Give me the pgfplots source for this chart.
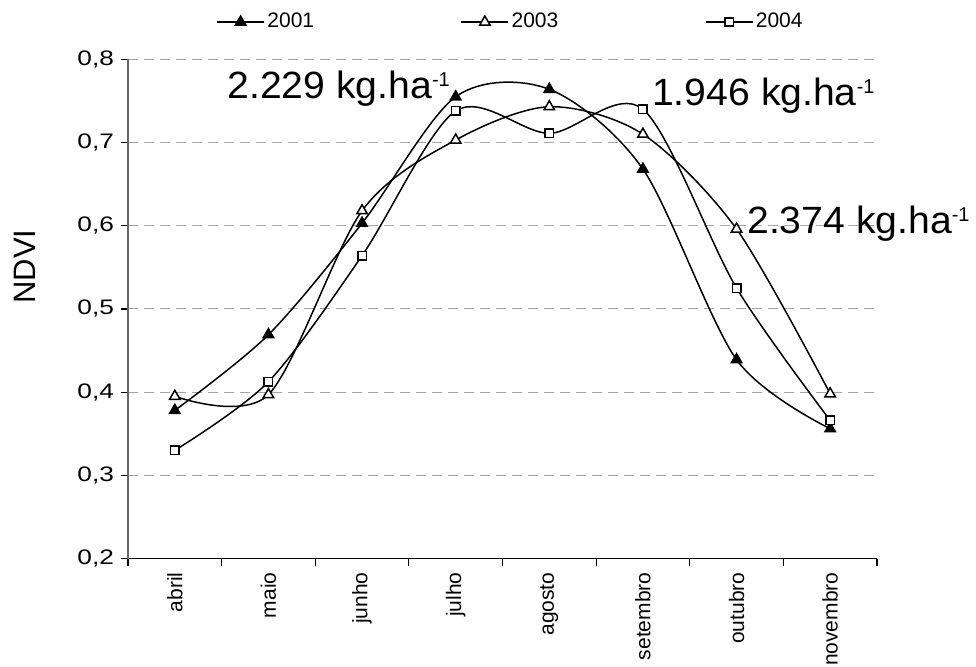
\documentclass[border=0pt]{standalone}
\usepackage{pgfplots}
\pgfplotsset{compat=1.18}
\usepackage{fontspec}
\setmainfont{Liberation Sans}
\newcommand{\ann}[1]{\scalebox{1.03}[1]{#1 kg.ha}\raisebox{6pt}{\fontsize{10}{12}\selectfont -1}}
\begin{document}
\begin{tikzpicture}
\path[use as bounding box] (-64pt,-53.75pt) rectangle (424pt,279.25pt);
\begin{axis}[
  scale only axis,
  width=374.5pt, height=249.6pt,
  at={(0pt,0pt)}, anchor=south west,
  clip=false,
  xmin=-0.5, xmax=7.5,
  ymin=0.2, ymax=0.8,
  axis x line=bottom, axis y line=left,
  axis line style={-, line width=0.6pt},
  y axis line style={black!60},
  ytick={0.2,0.3,...,0.81},
  /pgf/number format/fixed, /pgf/number format/fixed zerofill, /pgf/number format/precision=1,
  /pgf/number format/use comma, /pgf/number format/assume math mode=true,
  yticklabel={\scalebox{1.25}[1]{\pgfmathprintnumber{\tick}}},
  xtick={0,...,7},
  xticklabels={abril,maio,junho,julho,agosto,setembro,outubro,novembro},
  minor xtick={-0.5,0.5,...,7.5},
  tick align=outside,
  major tick length=3.5pt,
  minor tick length=3.5pt,
  x tick style={draw=none},
  minor x tick style={draw=black, line width=0.6pt},
  y tick style={black, line width=0.6pt},
  xticklabel style={rotate=90, anchor=east, font=\fontsize{10.5}{12}\selectfont},
  yticklabel style={font=\fontsize{10.5}{12}\selectfont},
  ymajorgrids,
  major grid style={black!35, dash pattern=on 5pt off 3pt, line width=0.5pt},
  ylabel={NDVI},
  ylabel style={at={(axis description cs:-0.1375,0.5845)}, anchor=center, font=\fontsize{15.5}{18}\selectfont},
  legend columns=3,
  legend style={at={(axis description cs:0.1175,1.0747)}, anchor=west, draw=none, fill=none,
    font=\fontsize{10.5}{12}\selectfont, inner sep=0pt,
    nodes={inner sep=1.25pt},
    /tikz/every even column/.append style={column sep=72pt}},
  legend image code/.code={
    \draw[#1] (0pt,0pt) -- (23.5pt,0pt);
    \draw[#1, mark repeat=1] plot coordinates {(11.75pt,0pt)};
  },
  every axis plot/.append style={line width=0.75pt, black, smooth, tension=0.5},
]
\addplot[mark=triangle*, mark size=3pt, mark options={fill=black, solid}] coordinates {
 (0,0.378) (1,0.469) (2,0.603) (3,0.755) (4,0.764) (5,0.668) (6,0.439) (7,0.356)};
\addlegendentry{2001}
\addplot[mark=triangle*, mark size=3pt, mark options={fill=white, solid}] coordinates {
 (0,0.395) (1,0.397) (2,0.618) (3,0.703) (4,0.743) (5,0.710) (6,0.596) (7,0.398)};
\addlegendentry{2003}
\addplot[mark=square*, mark size=2.1pt, mark options={fill=white, solid}] coordinates {
 (0,0.330) (1,0.4125) (2,0.564) (3,0.738) (4,0.711) (5,0.740) (6,0.525) (7,0.366)};
\addlegendentry{2004}
\node[anchor=base west, inner sep=0pt, font=\fontsize{19}{22}\selectfont] at (axis cs:0.558,0.753) {\ann{2.229}};
\node[anchor=base west, inner sep=0pt, font=\fontsize{19}{22}\selectfont] at (axis cs:5.095,0.745) {\ann{1.946}};
\node[anchor=base west, inner sep=0pt, font=\fontsize{19}{22}\selectfont] at (axis cs:6.11,0.591) {\ann{2.374}};
\end{axis}
\end{tikzpicture}
\end{document}
